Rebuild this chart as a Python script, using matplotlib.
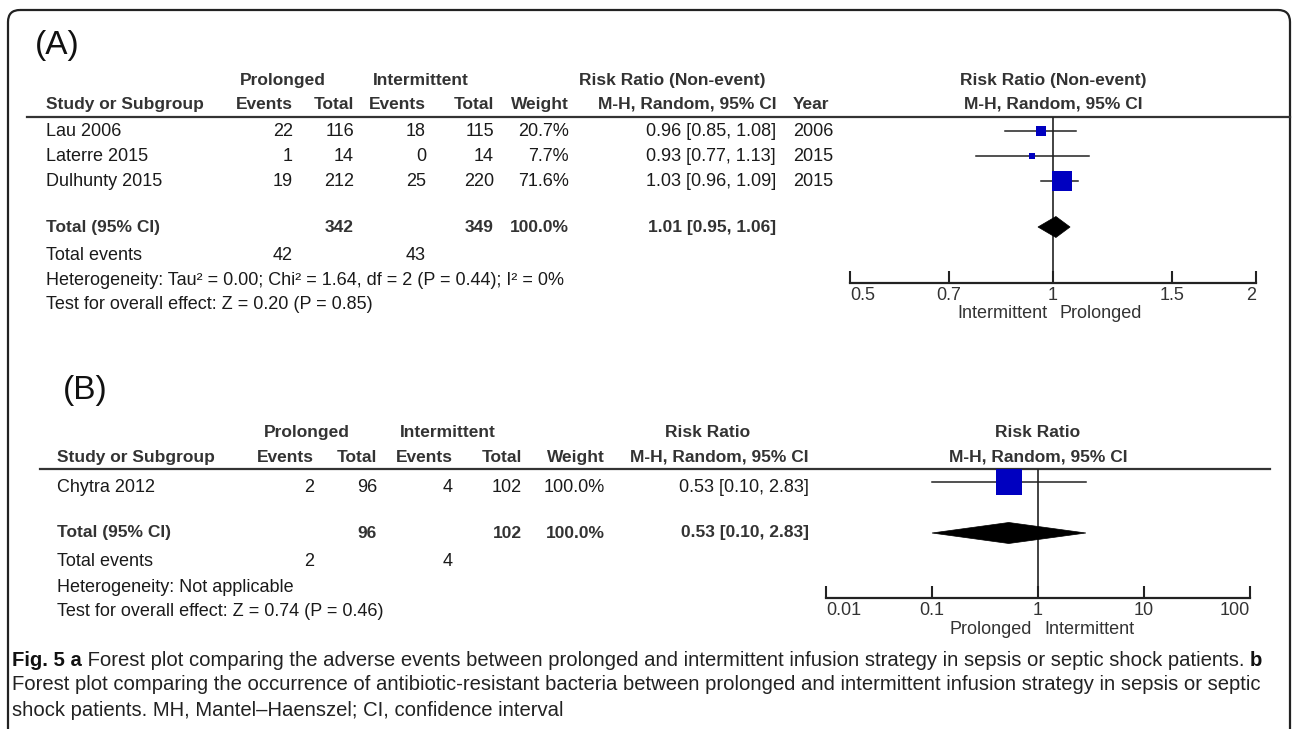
import matplotlib.pyplot as plt
import numpy as np
from matplotlib.patches import FancyBboxPatch, Polygon
from matplotlib.ticker import NullLocator

plt.rcParams['font.family'] = ['Liberation Sans Narrow', 'Liberation Sans', 'DejaVu Sans']

# ---- data, panel A (adverse events, RR of non-event)
studies_a = ['Lau 2006', 'Laterre 2015', 'Dulhunty 2015']
prol_events_a = [22, 1, 19]
prol_total_a = [116, 14, 212]
int_events_a = [18, 0, 25]
int_total_a = [115, 14, 220]
weight_a = [20.7, 7.7, 71.6]
rr_a = [0.96, 0.93, 1.03]
lo_a = [0.85, 0.77, 0.96]
hi_a = [1.08, 1.13, 1.09]
year_a = [2006, 2015, 2015]
total_a = {'prol_n': 342, 'int_n': 349, 'prol_ev': 42, 'int_ev': 43, 'rr': 1.01, 'lo': 0.95, 'hi': 1.06}
ticks_a = [0.5, 0.7, 1, 1.5, 2]
ticklabels_a = ['0.5', '0.7', '1', '1.5', '2']

# ---- data, panel B (antibiotic-resistant bacteria)
studies_b = ['Chytra 2012']
prol_events_b = [2]
prol_total_b = [96]
int_events_b = [4]
int_total_b = [102]
weight_b = [100.0]
rr_b = [0.53]
lo_b = [0.10]
hi_b = [2.83]
total_b = {'prol_n': 96, 'int_n': 102, 'prol_ev': 2, 'int_ev': 4, 'rr': 0.53, 'lo': 0.10, 'hi': 2.83}
ticks_b = [0.01, 0.1, 1, 10, 100]
ticklabels_b = ['0.01', '0.1', '1', '10', '100']

W, H = 1292, 729
fig = plt.figure(figsize=(W / 100, H / 100), dpi=100)
bg = fig.add_axes([0, 0, 1, 1])
bg.set_xlim(0, W)
bg.set_ylim(H, 0)
bg.axis('off')

HEAD = '#333333'
BODY = '#1a1a1a'
FS = 12.5      # headers
FB = 13        # body rows
BLUE = '#0000c0'

frame = FancyBboxPatch((8, 10), 1282, 740, boxstyle='round,pad=0,rounding_size=12',
                       fc='none', ec='#222222', lw=1.6)
bg.add_patch(frame)


def px_axes(x0, x1, y0, y1):
    return fig.add_axes([x0 / W, 1 - y1 / H, (x1 - x0) / W, (y1 - y0) / H])


def forest(x0, x1, ytop, yaxis, lims, ticks, ticklabels, rows_y, est, lo, hi, weights,
           side_max, tot_y, tot, left_lab, right_lab):
    ax = px_axes(x0, x1, ytop, yaxis)
    ax.set_xscale('log')
    ax.set_xlim(*lims)
    ax.set_ylim(yaxis, ytop)
    ax.patch.set_alpha(0)
    for s in ['top', 'left', 'right']:
        ax.spines[s].set_visible(False)
    ax.spines['bottom'].set_linewidth(1.6)
    ax.spines['bottom'].set_color('#222222')
    ax.set_yticks([])
    ax.set_xticks(ticks)
    ax.set_xticklabels(ticklabels)
    ax.xaxis.set_minor_locator(NullLocator())
    ax.tick_params(axis='x', direction='in', length=9, width=1.5, pad=3,
                   labelsize=FB, labelcolor=HEAD, color='#222222')
    labs = ax.get_xticklabels()
    labs[0].set_ha('left')
    labs[-1].set_ha('right')
    ax.axvline(1, color='#222222', lw=1.2, zorder=1)
    wmax = max(weights)
    for y, e, l, h, w in zip(rows_y, est, lo, hi, weights):
        ax.plot([l, h], [y, y], color='#222222', lw=1.1, zorder=2, clip_on=False)
        side = side_max * (w / wmax) ** 0.6
        ax.plot([e], [y], marker='s', ms=side * 0.72, color=BLUE, mec=BLUE, mew=0,
                zorder=3, clip_on=False)
    dh = 10.5
    dia = Polygon([(tot['lo'], tot_y), (tot['rr'], tot_y - dh), (tot['hi'], tot_y),
                   (tot['rr'], tot_y + dh)], closed=True, fc='black', ec='black', lw=0.5,
                  zorder=3, clip_on=False)
    ax.add_patch(dia)
    ax.annotate(left_lab, xy=(1, 0), xycoords=('data', 'axes fraction'), xytext=(-6, -31),
                textcoords='offset pixels', ha='right', va='center', fontsize=FB, color=HEAD)
    ax.annotate(right_lab, xy=(1, 0), xycoords=('data', 'axes fraction'), xytext=(6, -31),
                textcoords='offset pixels', ha='left', va='center', fontsize=FB, color=HEAD)
    return ax


def txt(x, y, s, ha='right', bold=False, color=BODY, size=None):
    if size is None:
        size = FS if bold else FB
    bg.text(x, y, s, ha=ha, va='center', fontsize=size, color=color,
            fontweight='bold' if bold else 'normal')


# ================= panel A =================
txt(57, 45, '(A)', ha='center', color='#111111', size=24)
colA = [293, 354, 426, 494, 569, 776]
txt(283, 80, 'Prolonged', ha='center', bold=True, color=HEAD)
txt(421, 80, 'Intermittent', ha='center', bold=True, color=HEAD)
txt(672, 80, 'Risk Ratio (Non-event)', ha='center', bold=True, color=HEAD)
txt(1053, 80, 'Risk Ratio (Non-event)', ha='center', bold=True, color=HEAD)
txt(46, 104, 'Study or Subgroup', ha='left', bold=True, color=HEAD)
for x, s in zip(colA, ['Events', 'Total', 'Events', 'Total', 'Weight', 'M-H, Random, 95% CI']):
    txt(x, 104, s, bold=True, color=HEAD)
txt(793, 104, 'Year', ha='left', bold=True, color=HEAD)
txt(1053, 104, 'M-H, Random, 95% CI', ha='center', bold=True, color=HEAD)
bg.plot([27, 1290], [117, 117], color='#333333', lw=1.6)

rows_a = [131, 156, 181]
for i, y in enumerate(rows_a):
    txt(46, y, studies_a[i], ha='left')
    vals = [str(prol_events_a[i]), str(prol_total_a[i]), str(int_events_a[i]),
            str(int_total_a[i]), f'{weight_a[i]:.1f}%',
            f'{rr_a[i]:.2f} [{lo_a[i]:.2f}, {hi_a[i]:.2f}]']
    for x, s in zip(colA, vals):
        txt(x, y, s)
    txt(793, y, str(year_a[i]), ha='left')

ty = 227
txt(46, ty, 'Total (95% CI)', ha='left', bold=True, color=HEAD)
txt(colA[1], ty, str(total_a['prol_n']), bold=True, color=HEAD)
txt(colA[3], ty, str(total_a['int_n']), bold=True, color=HEAD)
txt(colA[4], ty, f'{sum(weight_a):.1f}%', bold=True, color=HEAD)
txt(colA[5], ty, f"{total_a['rr']:.2f} [{total_a['lo']:.2f}, {total_a['hi']:.2f}]", bold=True, color=HEAD)
txt(46, 255, 'Total events', ha='left')
txt(colA[0], 255, str(total_a['prol_ev']))
txt(colA[2], 255, str(total_a['int_ev']))
txt(46, 280, 'Heterogeneity: Tau\u00b2 = 0.00; Chi\u00b2 = 1.64, df = 2 (P = 0.44); I\u00b2 = 0%', ha='left')
txt(46, 304, 'Test for overall effect: Z = 0.20 (P = 0.85)', ha='left')

forest(850, 1256, 117, 283, (0.5, 2), ticks_a, ticklabels_a, rows_a, rr_a, lo_a, hi_a,
       weight_a, 20, ty, total_a, 'Intermittent', 'Prolonged')

# ================= panel B =================
txt(85, 390, '(B)', ha='center', color='#111111', size=24)
colB = [314, 377, 453, 522, 605, 809]
txt(307, 432, 'Prolonged', ha='center', bold=True, color=HEAD)
txt(448, 432, 'Intermittent', ha='center', bold=True, color=HEAD)
txt(708, 432, 'Risk Ratio', ha='center', bold=True, color=HEAD)
txt(1038, 432, 'Risk Ratio', ha='center', bold=True, color=HEAD)
txt(57, 457, 'Study or Subgroup', ha='left', bold=True, color=HEAD)
for x, s in zip(colB, ['Events', 'Total', 'Events', 'Total', 'Weight', 'M-H, Random, 95% CI']):
    txt(x, 457, s, bold=True, color=HEAD)
txt(1038, 457, 'M-H, Random, 95% CI', ha='center', bold=True, color=HEAD)
bg.plot([40, 1270], [469, 469], color='#333333', lw=1.6)

rows_b = [487]
for i, y in enumerate(rows_b):
    txt(57, y, studies_b[i], ha='left')
    vals = [str(prol_events_b[i]), str(prol_total_b[i]), str(int_events_b[i]),
            str(int_total_b[i]), f'{weight_b[i]:.1f}%',
            f'{rr_b[i]:.2f} [{lo_b[i]:.2f}, {hi_b[i]:.2f}]']
    for x, s in zip(colB, vals):
        txt(x, y, s)

tyb = 533
txt(57, tyb, 'Total (95% CI)', ha='left', bold=True, color=HEAD)
txt(colB[1], tyb, str(total_b['prol_n']), bold=True, color=HEAD)
txt(colB[3], tyb, str(total_b['int_n']), bold=True, color=HEAD)
txt(colB[4], tyb, f'{sum(weight_b):.1f}%', bold=True, color=HEAD)
txt(colB[5], tyb, f"{total_b['rr']:.2f} [{total_b['lo']:.2f}, {total_b['hi']:.2f}]", bold=True, color=HEAD)
txt(57, 562, 'Total events', ha='left')
txt(colB[0], 562, str(total_b['prol_ev']))
txt(colB[2], 562, str(total_b['int_ev']))
txt(57, 587, 'Heterogeneity: Not applicable', ha='left')
txt(57, 611, 'Test for overall effect: Z = 0.74 (P = 0.46)', ha='left')

forest(826, 1250, 469, 598, (0.01, 100), ticks_b, ticklabels_b, [482], rr_b, lo_b, hi_b,
       weight_b, 27, tyb, total_b, 'Prolonged', 'Intermittent')

# ================= caption =================
CFS = 14.6
c1 = bg.text(12, 661, 'Fig. 5 a', ha='left', va='center', fontsize=CFS, fontweight='bold', color='#111111')
c2 = bg.annotate(' Forest plot comparing the adverse events between prolonged and intermittent infusion '
                 'strategy in sepsis or septic shock patients. ', xy=(1, 0), xycoords=c1,
                 ha='left', va='bottom', fontsize=CFS, color='#222222')
bg.annotate('b', xy=(1, 0), xycoords=c2, ha='left', va='bottom', fontsize=CFS,
            fontweight='bold', color='#111111')
bg.text(12, 685, 'Forest plot comparing the occurrence of antibiotic-resistant bacteria between prolonged '
        'and intermittent infusion strategy in sepsis or septic', ha='left', va='center',
        fontsize=CFS, color='#222222')
bg.text(12, 710, 'shock patients. MH, Mantel\u2013Haenszel; CI, confidence interval', ha='left',
        va='center', fontsize=CFS, color='#222222')

fig.savefig('out.png', dpi=100, facecolor='white')
